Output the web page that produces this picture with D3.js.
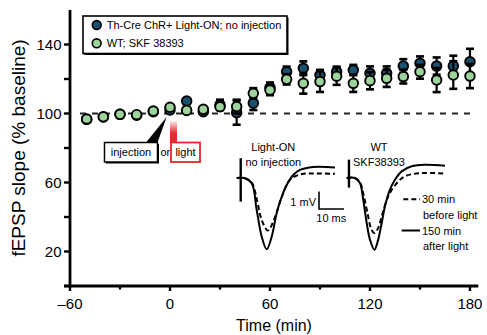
<!DOCTYPE html>
<html>
<head>
<meta charset="utf-8">
<script src="https://cdn.jsdelivr.net/npm/d3@7"></script>
<style>
  body { margin: 0; background: #fff; }
  svg { display: block; font-family: "Liberation Sans", Arial, sans-serif; }
</style>
</head>
<body>
<svg id="chart" width="487" height="335"></svg>
<script>
// time points (min)
const times = [-50,-40,-30,-20,-10,0,10,20,30,40,50,60,70,80,90,100,110,120,130,140,150,160,170,180];
// Th-Cre ChR+ Light-ON; no injection
const lightOn    = [96.5,98,99.5,99,101,102,107.2,101,105,100.5,106,115,124.2,126.2,122.3,124.2,125.2,123.3,123.3,127.5,129.1,127.5,127.5,130];
const lightOnErr = [1,1,1,1,1.5,1.5,2,1.5,3,7,4,3,3,4,3,3,3,4,4,4,4,5,6,7.5];
// WT; SKF 38393
const skf    = [96.8,98.1,99.5,99.3,101.4,103.6,101.8,102.4,103.9,104,111.7,113.6,119.8,117.5,118.5,121.6,117.5,119,120.4,121.4,124.2,119.4,122.3,121.7];
const skfErr = [1,1,1,1,1,1,1.5,1.5,2,4,3,3,3,6,6,5,5,5,5,4,4,7,8,7];

const seriesNames = ["Th-Cre ChR+ Light-ON; no injection", "WT; SKF 38393"];
const seriesColors = ["#1b5170", "#9dd49b"];

const xMajor = [-60,0,60,120,180], xMinor = [-30,30,90,150];
const yMajor = [20,60,100,140], yMinor = [0,40,80,120];

// example fEPSP traces (ms, mV)
const leftBefore  = [[0,0],[3,0],[6,-0.25],[8,-1.2],[10,-2.4],[12.5,-3.0],[15,-2.35],[18,-1.1],[21.3,-0.1],[25.3,0.2],[30,0.26],[39.3,0.24]];
const leftAfter   = [[0,0],[3,0],[6,-0.3],[8,-1.83],[10,-3.35],[12,-4.07],[14,-3.35],[16,-2.0],[18,-1.07],[20,-0.4],[22.6,0.17],[25.3,0.46],[30.6,0.63],[39.3,0.6]];
const rightBefore = [[0,0],[3.3,0],[5.3,-0.25],[6.8,-1.0],[8.3,-2.0],[9.8,-2.9],[11.1,-3.15],[12.6,-2.85],[14,-2.2],[16.6,-1.05],[20,-0.3],[23.3,0.1],[30,0.28],[39.3,0.25]];
const rightAfter  = [[0,0],[3.3,0],[5.3,-0.29],[6.6,-1.24],[8,-2.57],[9.3,-3.52],[11.1,-4.1],[12.6,-3.52],[14,-2.57],[15.3,-1.62],[17.3,-0.67],[19.3,-0.1],[22,0.38],[26,0.67],[31.3,0.76],[39.3,0.7]];

const svg = d3.select("#chart");
const x = d3.scaleLinear().domain([-60, 185]).range([70, 478.3]);
const y = d3.scaleLinear().domain([0, 160]).range([286, 10]);

// gradient for light bar
const defs = svg.append("defs");
const grad = defs.append("linearGradient").attr("id", "lightGrad")
  .attr("x1", 0).attr("y1", 0).attr("x2", 0).attr("y2", 1);
grad.append("stop").attr("offset", "0%").attr("stop-color", "#fde6e6");
grad.append("stop").attr("offset", "55%").attr("stop-color", "#ea2a30");
grad.append("stop").attr("offset", "100%").attr("stop-color", "#e8242b");

// axes
const ax = svg.append("g").attr("stroke", "#000").attr("fill", "none");
ax.append("line").attr("x1", x(-60)).attr("x2", x(-60)).attr("y1", y(160)).attr("y2", y(0) + 1.3).attr("stroke-width", 2.8);
ax.append("line").attr("x1", x(-60) - 6).attr("x2", x(185)).attr("y1", y(0)).attr("y2", y(0)).attr("stroke-width", 2.8);
ax.selectAll(".ytk").data(yMajor.concat(yMinor)).join("line")
  .attr("x1", x(-60) - 6).attr("x2", x(-60)).attr("y1", d => y(d)).attr("y2", d => y(d)).attr("stroke-width", 2.4);
ax.selectAll(".xtk").data(xMajor).join("line")
  .attr("x1", d => x(d)).attr("x2", d => x(d)).attr("y1", y(0)).attr("y2", y(0) + 5).attr("stroke-width", 2.4);
ax.selectAll(".xmn").data(xMinor).join("line")
  .attr("x1", d => x(d)).attr("x2", d => x(d)).attr("y1", y(0)).attr("y2", y(0) + 3.5).attr("stroke-width", 2.4);

svg.selectAll(".ylab").data(yMajor).join("text")
  .attr("x", x(-60) - 8.5).attr("y", d => y(d) + 5.4)
  .attr("text-anchor", "end").attr("font-size", 15).text(d => d);
svg.selectAll(".xlab").data(xMajor).join("text")
  .attr("x", d => x(d)).attr("y", 308.5)
  .attr("text-anchor", "middle").attr("font-size", 15).text(d => d < 0 ? "\u2013" + Math.abs(d) : d);

svg.append("text").attr("x", 274).attr("y", 330.5).attr("text-anchor", "middle")
  .attr("font-size", 16).text("Time (min)");
svg.append("text").attr("transform", "translate(24.5,148) rotate(-90)").attr("text-anchor", "middle")
  .attr("font-size", 19).text("fEPSP slope (% baseline)");

// baseline
svg.append("line").attr("x1", x(-54)).attr("x2", x(182)).attr("y1", y(100)).attr("y2", y(100))
  .attr("stroke", "#222").attr("stroke-width", 2).attr("stroke-dasharray", "6,6");

// series
const sets = [
  { vals: lightOn, err: lightOnErr, color: seriesColors[0] },
  { vals: skf, err: skfErr, color: seriesColors[1] }
];
sets.forEach(s => {
  const g = svg.append("g");
  const pts = times.map((t, i) => ({ t, v: s.vals[i], e: s.err[i] }));
  g.selectAll(".eb").data(pts).join("line")
    .attr("x1", d => x(d.t)).attr("x2", d => x(d.t))
    .attr("y1", d => y(d.v + d.e)).attr("y2", d => y(d.v - d.e))
    .attr("stroke", "#000").attr("stroke-width", 2.2);
  [1, -1].forEach(sg => {
    g.selectAll(".cap" + sg).data(pts.filter(d => d.e > 2)).join("line")
      .attr("x1", d => x(d.t) - 4).attr("x2", d => x(d.t) + 4)
      .attr("y1", d => y(d.v + sg * d.e)).attr("y2", d => y(d.v + sg * d.e))
      .attr("stroke", "#000").attr("stroke-width", 2.6);
  });
  g.selectAll("circle").data(pts).join("circle")
    .attr("cx", d => x(d.t)).attr("cy", d => y(d.v)).attr("r", 4.8)
    .attr("fill", s.color).attr("stroke", "#000").attr("stroke-width", 1.9);
});

// legend
svg.append("rect").attr("x", 84.5).attr("y", 17.5).attr("width", 204).attr("height", 37.5).attr("fill", "#000");
svg.append("rect").attr("x", 83).attr("y", 16).attr("width", 204).attr("height", 37.5)
  .attr("fill", "#fff").attr("stroke", "#000").attr("stroke-width", 1.6);
const leg = svg.selectAll(".leg").data(seriesNames).join("g")
  .attr("transform", (d, i) => `translate(96.7,${25 + i * 18.3})`);
leg.append("circle").attr("r", 4.4).attr("fill", (d, i) => seriesColors[i]).attr("stroke", "#000").attr("stroke-width", 1.6);
leg.append("text").attr("x", 10).attr("y", 4).attr("font-size", 11).text(d => d);

// injection / light annotation
svg.append("path")
  .attr("d", d3.line()([[146, 142.5], [157.5, 142.5], [x(-2), y(98)]]) + "Z")
  .attr("fill", "#000");
svg.append("rect").attr("x", 170).attr("y", y(95.5)).attr("width", 7).attr("height", 142.5 - y(95.5))
  .attr("fill", "url(#lightGrad)");
svg.append("rect").attr("x", 106).attr("y", 144).attr("width", 53).attr("height", 19.5).attr("fill", "#000");
svg.append("rect").attr("x", 104.5).attr("y", 142.5).attr("width", 53).attr("height", 19.5)
  .attr("fill", "#fff").attr("stroke", "#000").attr("stroke-width", 1.5);
svg.append("rect").attr("x", 171).attr("y", 142.5).attr("width", 29).attr("height", 19.5)
  .attr("fill", "#fff").attr("stroke", "#e8262c").attr("stroke-width", 1.8);
svg.append("text").attr("x", 131).attr("y", 156).attr("text-anchor", "middle").attr("font-size", 11).text("injection");
svg.append("text").attr("x", 160.5).attr("y", 156).attr("font-size", 11).text("or");
svg.append("text").attr("x", 185.5).attr("y", 156).attr("text-anchor", "middle").attr("font-size", 11).text("light");

// inset traces
const tY = d3.scaleLinear().domain([-5, 1]).range([265.5, 160.5]);
const insets = [
  { x0: 236.7, before: leftBefore, after: leftAfter, art: [1.6, 1.13, -1.35], title: ["Light-ON", "no injection"], tx: 273.3 },
  { x0: 346.7, before: rightBefore, after: rightAfter, art: [0.9, 1.05, -0.55], title: ["WT", "SKF38393"], tx: 379 }
];
insets.forEach(ins => {
  const tX = d3.scaleLinear().domain([0, 40]).range([ins.x0, ins.x0 + 100]);
  const line = d3.line().x(d => tX(d[0])).y(d => tY(d[1])).curve(d3.curveCatmullRom);
  svg.append("path").attr("d", line(ins.before)).attr("fill", "none")
    .attr("stroke", "#000").attr("stroke-width", 2).attr("stroke-dasharray", "5,3");
  svg.append("path").attr("d", line(ins.after)).attr("fill", "none")
    .attr("stroke", "#000").attr("stroke-width", 2);
  svg.append("line").attr("x1", tX(ins.art[0])).attr("x2", tX(ins.art[0]))
    .attr("y1", tY(ins.art[1])).attr("y2", tY(ins.art[2])).attr("stroke", "#000").attr("stroke-width", 2.4);
  svg.selectAll(null).data(ins.title).join("text")
    .attr("x", ins.tx).attr("y", (d, i) => 150.7 + i * 15.6)
    .attr("text-anchor", "middle").attr("font-size", 11).text(d => d);
});

// scale bar
const sbX = 319, sbY = 209;
svg.append("path").attr("d", d3.line()([[sbX, sbY - (tY(0) - tY(1))], [sbX, sbY], [sbX + 25, sbY]]))
  .attr("fill", "none").attr("stroke", "#000").attr("stroke-width", 1.6);
svg.append("text").attr("x", sbX - 3).attr("y", 206).attr("text-anchor", "end").attr("font-size", 11).text("1 mV");
svg.append("text").attr("x", 331.3).attr("y", 222.3).attr("text-anchor", "middle").attr("font-size", 11).text("10 ms");

// trace legend
const tl = [
  { dash: "5,3", lines: ["30 min", "before light"], y: 199.3, x1: 403.3 },
  { dash: null, lines: ["150 min", "after light"], y: 230.5, x1: 401.7 }
];
tl.forEach(d => {
  svg.append("line").attr("x1", d.x1).attr("x2", 420).attr("y1", d.y).attr("y2", d.y)
    .attr("stroke", "#000").attr("stroke-width", 2).attr("stroke-dasharray", d.dash);
  svg.append("text").attr("x", 422).attr("y", d.y + 4).attr("font-size", 11).text(d.lines[0]);
  svg.append("text").attr("x", 423).attr("y", d.y + 19.5).attr("font-size", 11).text(d.lines[1]);
});
</script>
</body>
</html>
